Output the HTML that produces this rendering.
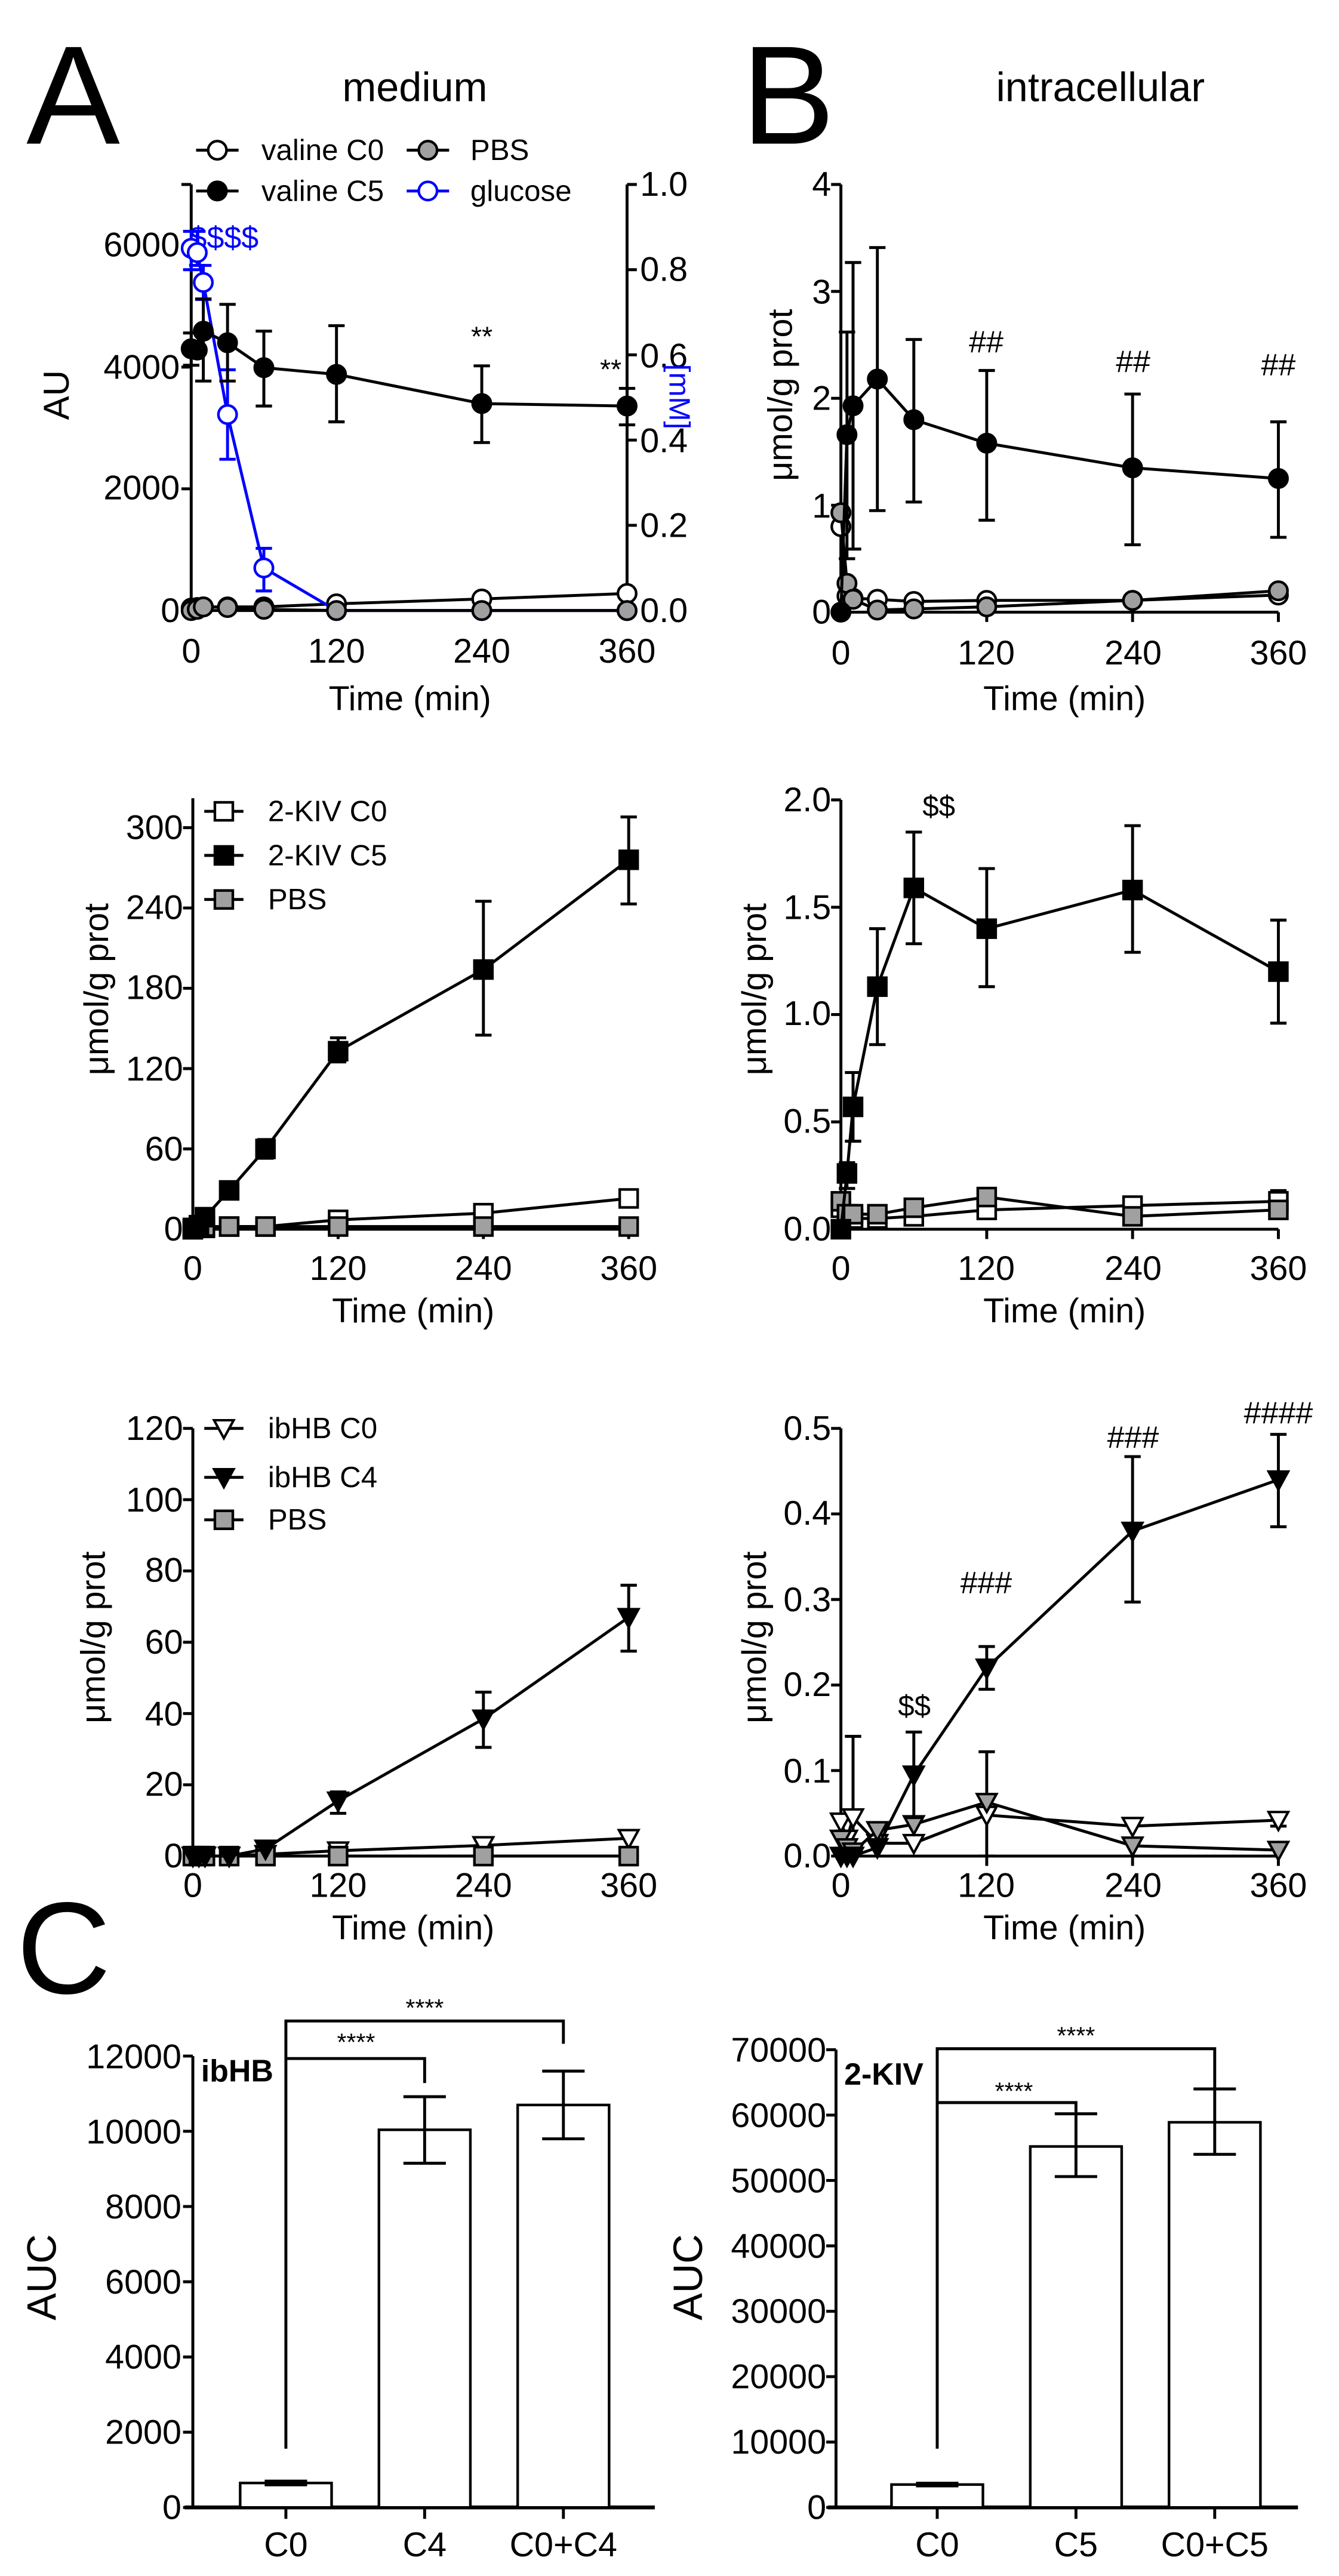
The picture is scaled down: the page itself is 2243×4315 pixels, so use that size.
<!DOCTYPE html>
<html><head><meta charset="utf-8"><style>
html,body{margin:0;padding:0;background:#fff;}
svg{display:block;}
text{font-family:"Liberation Sans",Arial,sans-serif;fill:#000;}
.t{font-size:21px;}
.e{text-anchor:end;}
.m{text-anchor:middle;}
.lg{font-size:18px;}
</style></head><body>
<svg id="s" xmlns="http://www.w3.org/2000/svg" viewBox="0 0 820 1578" width="2243" height="4315">
<rect width="820" height="1578" fill="#fff"/>
<text x="16" y="88" style="font-size:86px">A</text>
<text x="454" y="88" style="font-size:86px">B</text>
<text x="10" y="1221" style="font-size:80px">C</text>
<text x="254" y="62" class="m" style="font-size:25px">medium</text>
<text x="674" y="62" class="m" style="font-size:25px">intracellular</text>

<text class="t e" x="110" y="381">0</text>
<text class="t e" x="110" y="306">2000</text>
<text class="t e" x="110" y="232">4000</text>
<text class="t e" x="110" y="157">6000</text>
<text class="t" x="392" y="381">0.0</text>
<text class="t" x="392" y="329">0.2</text>
<text class="t" x="392" y="277">0.4</text>
<text class="t" x="392" y="225">0.6</text>
<text class="t" x="392" y="172">0.8</text>
<text class="t" x="392" y="120">1.0</text>
<text class="t m" x="117" y="406">0</text>
<text class="t m" x="206" y="406">120</text>
<text class="t m" x="295" y="406">240</text>
<text class="t m" x="384" y="406">360</text>
<text class="t m" x="251" y="435">Time (min)</text>
<text class="t m" transform="translate(42,242) rotate(-90)" style="font-size:22px">AU</text>
<text class="m" transform="translate(410,243) rotate(90)" style="font-size:18px;fill:#0000ff">[mM]</text>
<text x="116" y="152" style="font-size:19px;fill:#0000ff">$$$$</text>
<text class="m" x="295" y="212" style="font-size:17px">**</text>
<text class="m" x="374" y="232" style="font-size:17px">**</text>
<text class="lg" x="160" y="98">valine C0</text>
<text class="lg" x="160" y="123">valine C5</text>
<text class="lg" x="288" y="98">PBS</text>
<text class="lg" x="288" y="123">glucose</text>

<text class="t e" x="509" y="382">0</text>
<text class="t e" x="509" y="317">1</text>
<text class="t e" x="509" y="251">2</text>
<text class="t e" x="509" y="186">3</text>
<text class="t e" x="509" y="120">4</text>
<text class="t m" x="515" y="407">0</text>
<text class="t m" x="604" y="407">120</text>
<text class="t m" x="694" y="407">240</text>
<text class="t m" x="783" y="407">360</text>
<text class="t m" x="652" y="435">Time (min)</text>
<text class="t m" transform="translate(485,242) rotate(-90)" style="font-size:21px">μmol/g prot</text>
<text class="m" x="604" y="216" style="font-size:19px">##</text>
<text class="m" x="694" y="228" style="font-size:19px">##</text>
<text class="m" x="783" y="230" style="font-size:19px">##</text>

<text class="t e" x="112" y="760">0</text>
<text class="t e" x="112" y="711">60</text>
<text class="t e" x="112" y="662">120</text>
<text class="t e" x="112" y="612">180</text>
<text class="t e" x="112" y="563">240</text>
<text class="t e" x="112" y="514">300</text>
<text class="t m" x="118" y="784">0</text>
<text class="t m" x="207" y="784">120</text>
<text class="t m" x="296" y="784">240</text>
<text class="t m" x="385" y="784">360</text>
<text class="t m" x="253" y="810">Time (min)</text>
<text class="t m" transform="translate(66,606) rotate(-90)" style="font-size:21px">μmol/g prot</text>
<text class="lg" x="164" y="503">2-KIV C0</text>
<text class="lg" x="164" y="530">2-KIV C5</text>
<text class="lg" x="164" y="557">PBS</text>

<text class="t e" x="509" y="760">0.0</text>
<text class="t e" x="509" y="694">0.5</text>
<text class="t e" x="509" y="628">1.0</text>
<text class="t e" x="509" y="563">1.5</text>
<text class="t e" x="509" y="497">2.0</text>
<text class="t m" x="515" y="784">0</text>
<text class="t m" x="604" y="784">120</text>
<text class="t m" x="694" y="784">240</text>
<text class="t m" x="783" y="784">360</text>
<text class="t m" x="652" y="810">Time (min)</text>
<text class="t m" transform="translate(469,606) rotate(-90)" style="font-size:21px">μmol/g prot</text>
<text class="m" x="575" y="500" style="font-size:18px">$$</text>

<text class="t e" x="112" y="1144">0</text>
<text class="t e" x="112" y="1100">20</text>
<text class="t e" x="112" y="1057">40</text>
<text class="t e" x="112" y="1013">60</text>
<text class="t e" x="112" y="969">80</text>
<text class="t e" x="112" y="926">100</text>
<text class="t e" x="112" y="882">120</text>
<text class="t m" x="118" y="1162">0</text>
<text class="t m" x="207" y="1162">120</text>
<text class="t m" x="296" y="1162">240</text>
<text class="t m" x="385" y="1162">360</text>
<text class="t m" x="253" y="1188">Time (min)</text>
<text class="t m" transform="translate(64,1003) rotate(-90)" style="font-size:21px">μmol/g prot</text>
<text class="lg" x="164" y="881">ibHB C0</text>
<text class="lg" x="164" y="911">ibHB C4</text>
<text class="lg" x="164" y="937">PBS</text>

<text class="t e" x="509" y="1144">0.0</text>
<text class="t e" x="509" y="1092">0.1</text>
<text class="t e" x="509" y="1039">0.2</text>
<text class="t e" x="509" y="987">0.3</text>
<text class="t e" x="509" y="934">0.4</text>
<text class="t e" x="509" y="882">0.5</text>
<text class="t m" x="515" y="1162">0</text>
<text class="t m" x="604" y="1162">120</text>
<text class="t m" x="694" y="1162">240</text>
<text class="t m" x="783" y="1162">360</text>
<text class="t m" x="652" y="1188">Time (min)</text>
<text class="t m" transform="translate(469,1003) rotate(-90)" style="font-size:21px">μmol/g prot</text>
<text class="m" x="560" y="1051" style="font-size:18px">$$</text>
<text class="m" x="604" y="976" style="font-size:19px">###</text>
<text class="m" x="694" y="887" style="font-size:19px">###</text>
<text class="m" x="783" y="872" style="font-size:19px">####</text>

<text class="t e" x="111" y="1543">0</text>
<text class="t e" x="111" y="1497">2000</text>
<text class="t e" x="111" y="1451">4000</text>
<text class="t e" x="111" y="1405">6000</text>
<text class="t e" x="111" y="1359">8000</text>
<text class="t e" x="111" y="1313">10000</text>
<text class="t e" x="111" y="1267">12000</text>
<text class="t m" x="175" y="1566">C0</text>
<text class="t m" x="260" y="1566">C4</text>
<text class="t m" x="345" y="1566">C0+C4</text>
<text class="m" transform="translate(34,1395) rotate(-90)" style="font-size:25px">AUC</text>
<text x="123" y="1275" style="font-size:19px;font-weight:bold">ibHB</text>
<text class="m" x="260" y="1235" style="font-size:15px">****</text>
<text class="m" x="218" y="1256" style="font-size:15px">****</text>

<text class="t e" x="506" y="1543">0</text>
<text class="t e" x="506" y="1503">10000</text>
<text class="t e" x="506" y="1463">20000</text>
<text class="t e" x="506" y="1423">30000</text>
<text class="t e" x="506" y="1383">40000</text>
<text class="t e" x="506" y="1343">50000</text>
<text class="t e" x="506" y="1303">60000</text>
<text class="t e" x="506" y="1263">70000</text>
<text class="t m" x="574" y="1566">C0</text>
<text class="t m" x="659" y="1566">C5</text>
<text class="t m" x="744" y="1566">C0+C5</text>
<text class="m" transform="translate(430,1395) rotate(-90)" style="font-size:25px">AUC</text>
<text x="517" y="1277" style="font-size:19px;font-weight:bold">2-KIV</text>
<text class="m" x="659" y="1252" style="font-size:15px">****</text>
<text class="m" x="621" y="1286" style="font-size:15px">****</text>

<g id="g"></g>
</svg>
<script>
var NS='http://www.w3.org/2000/svg',g=document.getElementById('g');
function el(t,a){var e=document.createElementNS(NS,t);for(var k in a)e.setAttribute(k,a[k]);g.appendChild(e);return e;}
function ln(x1,y1,x2,y2,c,w){el('line',{x1:x1,y1:y1,x2:x2,y2:y2,stroke:c||'#000','stroke-width':w||1.8});}
var T=[0,5,10,30,60,120,240,360];
function X(P,t){return P.x0+(P.x1-P.x0)*t/360;}
function Y(P,v){return P.y0-v*P.k;}
function axes(P,ticks){
 ln(P.x0,P.top,P.x0,P.y0);
 ticks.forEach(function(v){ln(P.x0-6,Y(P,v),P.x0,Y(P,v));});
 ln(P.x0,P.y0,P.x1,P.y0);
 [0,120,240,360].forEach(function(t){ln(X(P,t),P.y0,X(P,t),P.y0+6);});
}
function mk(x,y,m,fill,st){
 if(m=='o')el('circle',{cx:x,cy:y,r:5.6,fill:fill,stroke:st,'stroke-width':1.6});
 else if(m=='s')el('rect',{x:x-5.5,y:y-5.5,width:11,height:11,fill:fill,stroke:st,'stroke-width':1.6});
 else el('polygon',{points:(x-6)+','+(y-5)+' '+(x+6)+','+(y-5)+' '+x+','+(y+6),fill:fill,stroke:st,'stroke-width':1.5});
}
function ser(P,v,err,m,fill,st,sc){
 sc=sc||1;st=st||'#000';
 var pts=T.map(function(t,i){return X(P,t)+','+Y(P,v[i]*sc);}).join(' ');
 el('polyline',{points:pts,fill:'none',stroke:st,'stroke-width':1.8});
 if(err)err.forEach(function(e,i){if(!e)return;var x=X(P,T[i]),a=Y(P,e[0]*sc),b=Y(P,e[1]*sc);
  ln(x,a,x,b,st,1.8);ln(x-5,a,x+5,a,st,1.8);ln(x-5,b,x+5,b,st,1.8);});
 T.forEach(function(t,i){mk(X(P,t),Y(P,v[i]*sc),m,fill,st);});
}
var GR='#a0a0a0';
var PA={x0:117,x1:384,y0:374,top:113,k:261/7000};
axes(PA,[0,2000,4000,6000,7000]);
ln(PA.x1,113,PA.x1,374);
for(var i=0;i<=5;i++){var yy=374-i*52.2;ln(PA.x1,yy,PA.x1+6,yy);}
ser(PA,[40,50,60,60,60,110,190,280],null,'o','#fff');
ser(PA,[0.85,0.84,0.77,0.46,0.10,0,0,0],[[0.80,0.89],[0.81,0.89],[0.73,0.81],[0.355,0.565],[0.046,0.146],null,null,null],'o','#fff','#0000ff',7000);
ser(PA,[0,20,60,50,20,0,0,0],null,'o',GR);
ser(PA,[4300,4280,4590,4400,3990,3880,3400,3360],[[4030,4560],null,[3770,5120],[3770,5030],[3360,4590],[3100,4680],[2760,4020],[3050,3650]],'o','#000');
[[133,92,'o','#fff','#000'],[133,117,'o','#000','#000'],[262,92,'o',GR,'#000'],[262,117,'o','#fff','#0000ff']].forEach(function(l){ln(l[0]-13,l[1],l[0]+13,l[1],l[4]);mk(l[0],l[1],l[2],l[3],l[4]);});
var PB={x0:515,x1:783,y0:375,top:113,k:65.5};
axes(PB,[0,1,2,3,4]);
ser(PB,[0.8,0.15,0.13,0.12,0.1,0.11,0.11,0.16],null,'o','#fff');
ser(PB,[0.93,0.27,0.12,0.02,0.03,0.05,0.11,0.2],null,'o',GR);
ser(PB,[0,1.66,1.93,2.18,1.8,1.58,1.35,1.25],[null,[0.5,2.62],[0.59,3.27],[0.95,3.41],[1.03,2.55],[0.86,2.26],[0.63,2.04],[0.7,1.78]],'o','#000');
var PA2={x0:118,x1:385,y0:753,top:489,k:0.82};
axes(PA2,[0,60,120,180,240,300]);
ser(PA2,[0,1,1,2,2,7,12,23],null,'s','#fff');
ser(PA2,[1,2,2,2,2,2,2,2],null,'s',GR);
ser(PA2,[0,3,9,29,60,133,194,276],[null,null,null,[26,33],[53,67],[125,143],[145,245],[243,308]],'s','#000');
[[137,497,'#fff'],[137,524,'#000'],[137,551,GR]].forEach(function(l){ln(l[0]-12,l[1],l[0]+12,l[1]);mk(l[0],l[1],'s',l[2],'#000');});
var PB2={x0:515,x1:783,y0:753,top:490,k:131.5};
axes(PB2,[0,0.5,1,1.5,2]);
ser(PB2,[0.1,0.06,0.05,0.05,0.06,0.09,0.11,0.13],[null,null,null,null,null,null,null,[0.1,0.18]],'s','#fff');
ser(PB2,[0.13,0.07,0.07,0.07,0.1,0.15,0.06,0.09],null,'s',GR);
ser(PB2,[0,0.26,0.57,1.13,1.59,1.40,1.58,1.20],[null,[0.19,0.31],[0.41,0.73],[0.86,1.40],[1.33,1.85],[1.13,1.68],[1.29,1.88],[0.96,1.44]],'s','#000');
var PA3={x0:118,x1:385,y0:1137,top:875,k:262/120};
axes(PA3,[0,20,40,60,80,100,120]);
ser(PA3,[0,0,0,0,0.5,1.5,3,5],null,'v','#fff');
ser(PA3,[0,0,0,0,0,0,0,0],null,'s',GR);
ser(PA3,[0,0,0,0,2,15.5,38.5,67],[null,null,null,null,null,[12,18],[30.5,46],[57.5,76]],'v','#000');
[[137,875,'v','#fff'],[137,905,'v','#000'],[137,931,'s',GR]].forEach(function(l){ln(l[0]-12,l[1],l[0]+12,l[1]);mk(l[0],l[1],l[2],l[3],'#000');});
var PB3={x0:515,x1:783,y0:1137,top:875,k:524};
axes(PB3,[0,0.1,0.2,0.3,0.4,0.5]);
ser(PB3,[0.04,0.02,0.045,0.015,0.015,0.048,0.035,0.042],[null,null,[0,0.14],null,null,[0,0.122],null,[0.035,0.05]],'v','#fff');
ser(PB3,[0.02,0.01,0.005,0.03,0.037,0.063,0.012,0.007],null,'v',GR);
ser(PB3,[0,0,0,0.01,0.095,0.22,0.38,0.44],[null,null,null,null,[0.045,0.145],[0.195,0.245],[0.297,0.467],[0.385,0.493]],'v','#000');
function bars(ax,x0,x1,y0,k,ticks,cats,vals,errs){
 ln(ax,y0-ticks[ticks.length-1]*k,ax,y0);
 ticks.forEach(function(v){ln(ax-6,y0-v*k,ax,y0-v*k);});
 ln(x0,y0,x1,y0,'#000',2.4);
 cats.forEach(function(c,i){
  ln(c,y0,c,y0+7);
  el('rect',{x:c-28,y:y0-vals[i]*k,width:56,height:vals[i]*k,fill:'#fff',stroke:'#000','stroke-width':1.6});
  var a=y0-errs[i][0]*k,b=y0-errs[i][1]*k;
  ln(c,a,c,b);ln(c-13,a,c+13,a);ln(c-13,b,c+13,b);
 });
}
bars(118,113,401,1536,276.5/12000,[0,2000,4000,6000,8000,10000,12000],[175,260,345],[650,10040,10700],[[600,700],[9150,10920],[9800,11600]]);
bars(512,507,795,1536,280.4/70000,[0,10000,20000,30000,40000,50000,60000,70000],[574,659,744],[3500,55200,58900],[[3300,3700],[50600,60200],[54000,64000]]);
function br(xa,xb,y,ya,yb){var p=xa+','+ya+' '+xa+','+y+' '+xb+','+y+' '+xb+','+yb;el('polyline',{points:p,fill:'none',stroke:'#000','stroke-width':1.8});}
br(175,345,1238,1500,1252);
br(175,260,1261,1261,1276);
br(574,744,1255,1500,1279);
br(574,659,1288,1288,1294);
</script>
</body></html>
